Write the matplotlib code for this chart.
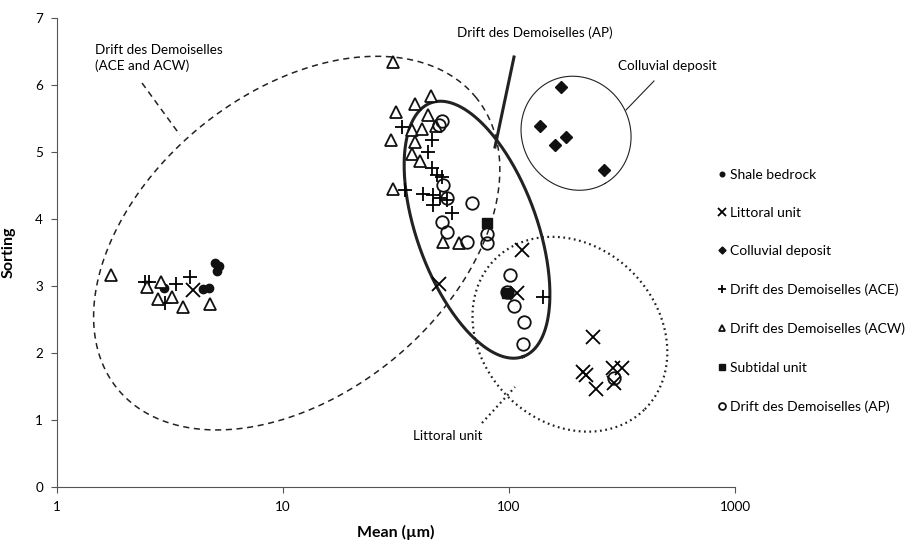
import numpy as np
import matplotlib
matplotlib.use("Agg")
import matplotlib.pyplot as plt

plt.rcParams['font.family'] = ['Lato', 'DejaVu Sans']

# mean (um), sorting
shale_x = [2.98, 4.44, 4.72, 5.0, 5.22, 5.12]
shale_y = [2.97, 2.95, 2.97, 3.35, 3.30, 3.23]

littoral_x = [4.01, 49.2, 113.8, 108, 236, 213, 220, 289, 315, 243, 292]
littoral_y = [2.94, 3.03, 3.54, 2.90, 2.24, 1.72, 1.67, 1.77, 1.78, 1.46, 1.55]

colluvial_x = [169, 137, 178, 159, 263]
colluvial_y = [5.97, 5.39, 5.23, 5.11, 4.73]

ace_x = [2.45, 2.56, 3.35, 3.88, 3.0, 33.5, 45.5, 44.0, 45.5, 47.9, 50.4,
         34.7, 41.5, 46.2, 49.4, 46.2, 53, 55.7, 142]
ace_y = [3.06, 3.06, 3.03, 3.13, 2.74, 5.37, 5.18, 5.00, 4.76, 4.66, 4.63,
         4.44, 4.38, 4.36, 4.31, 4.21, 4.28, 4.09, 2.84]

acw_x = [1.73, 2.49, 2.88, 2.79, 3.24, 3.62, 4.75, 30.6, 45.2, 38.4, 31.7,
         43.7, 47.4, 37.1, 41.1, 30.0, 38.4, 37.3, 40.4, 30.8, 51.2, 60.3]
acw_y = [3.17, 2.99, 3.06, 2.80, 2.83, 2.69, 2.73, 6.35, 5.83, 5.72, 5.59,
         5.55, 5.39, 5.33, 5.34, 5.18, 5.15, 4.97, 4.87, 4.45, 3.66, 3.64]

subtidal_x = [79.7, 97.7]
subtidal_y = [3.94, 2.89]

ap_x = [50.4, 49.2, 51.2, 53, 68.4, 50.4, 53, 79.7, 65, 79.7, 101, 97.7,
        105, 116.5, 115.7, 292]
ap_y = [5.47, 5.40, 4.51, 4.31, 4.24, 3.96, 3.81, 3.78, 3.66, 3.64, 3.17,
        2.91, 2.70, 2.47, 2.13, 1.63]

W, H = 913, 540
fig = plt.figure(figsize=(W / 100, H / 100), dpi=100)
L, R, T, B = 57, 735, 18, 487
ax = fig.add_axes([L / W, 1 - B / H, (R - L) / W, (B - T) / H])
ax.set_xscale('log')
ax.set_xlim(1, 1000)
ax.set_ylim(0, 7)

# pixel scale of one decade / one sorting unit
dec_px = (R - L) / 3.0
unit_px = (B - T) / 7.0


def ellipse(xc, yc, a, b, ang, **kw):
    # a, b in pixels, ang in degrees (counter-clockwise on screen)
    t = np.linspace(0, 2 * np.pi, 400)
    th = np.radians(ang)
    dx = a * np.cos(t) * np.cos(th) - b * np.sin(t) * np.sin(th)
    dy = a * np.cos(t) * np.sin(th) + b * np.sin(t) * np.cos(th)
    xs = 10 ** (np.log10(xc) + dx / dec_px)
    ys = yc + dy / unit_px
    ax.plot(xs, ys, color='#222222', **kw)


def pdata(px, py):
    return 10 ** ((px - L) / dec_px), (B - py) / unit_px


ellipse(11.5, 3.64, 231, 151, 39, lw=1.1, ls=(0, (4, 3)))
ellipse(72.2, 3.84, 135, 60, -70, lw=2.2)
ellipse(186, 2.28, 106, 88, -45, lw=1.6, ls=(0, (0.8, 1.6)))
ellipse(198, 5.28, 58, 54, -60, lw=0.8)

k = dict(color='black', ls='none')
ax.plot(shale_x, shale_y, marker='o', ms=6, mfc='#111111', mec='#111111', label='Shale bedrock', **k)
ax.plot(littoral_x, littoral_y, marker='x', ms=10, mew=1.3, label='Littoral unit', **k)
ax.plot(colluvial_x, colluvial_y, marker='D', ms=6.5, mfc='#111111', mec='#111111', label='Colluvial deposit', **k)
ax.plot(ace_x, ace_y, marker='+', ms=10, mew=1.3, label='Drift des Demoiselles (ACE)', **k)
ax.plot(acw_x, acw_y, marker='^', ms=8.5, mfc='white', mec='#111111', mew=1.3, label='Drift des Demoiselles (ACW)', **k)
ax.plot(subtidal_x, subtidal_y, marker='s', ms=7, mfc='#111111', mec='#111111', label='Subtidal unit', **k)
ax.plot(ap_x, ap_y, marker='o', ms=9, mfc='none', mec='#111111', mew=1.3, label='Drift des Demoiselles (AP)', **k)

# labels with leader lines
fs = 9.75
ax.text(*pdata(95, 58), 'Drift des Demoiselles\n(ACE and ACW)', fontsize=fs, va='center', linespacing=1.25)
ax.plot(*zip(pdata(142, 83), pdata(180, 135)), color='#222222', lw=1.1, ls=(0, (4, 3)))
ax.text(*pdata(457, 33), 'Drift des Demoiselles (AP)', fontsize=fs, va='center')
ax.plot(*zip(pdata(514, 57), pdata(495, 147)), color='#222222', lw=2.2)
ax.text(*pdata(618, 66), 'Colluvial deposit', fontsize=fs, va='center')
ax.plot(*zip(pdata(654, 81), pdata(626, 110)), color='#222222', lw=0.8)
ax.text(*pdata(413, 436), 'Littoral unit', fontsize=fs, va='center')
ax.plot(*zip(pdata(482, 423), pdata(515, 387)), color='#222222', lw=1.6, ls=(0, (0.8, 1.6)))

ax.set_xticks([1, 10, 100, 1000])
ax.set_xticklabels(['1', '10', '100', '1000'])
ax.xaxis.set_minor_locator(matplotlib.ticker.NullLocator())
ax.set_yticks(range(8))
ax.tick_params(labelsize=fs, length=4, color='#555555', pad=6)
for s in ['top', 'right']:
    ax.spines[s].set_visible(False)
for s in ['left', 'bottom']:
    ax.spines[s].set_color('#555555')
ax.set_xlabel('Mean (µm)', fontsize=11.5, fontweight='bold', labelpad=9)
ax.set_ylabel('Sorting', fontsize=11.5, fontweight='bold', labelpad=14)

ax.legend(loc='upper left', bbox_to_anchor=(713 / W, 1 - 163 / H), bbox_transform=fig.transFigure,
          frameon=False, fontsize=10, handlelength=0.5, handletextpad=0.3,
          labelspacing=1.9, markerscale=0.55, borderaxespad=0)

fig.savefig('out.png', dpi=100)
